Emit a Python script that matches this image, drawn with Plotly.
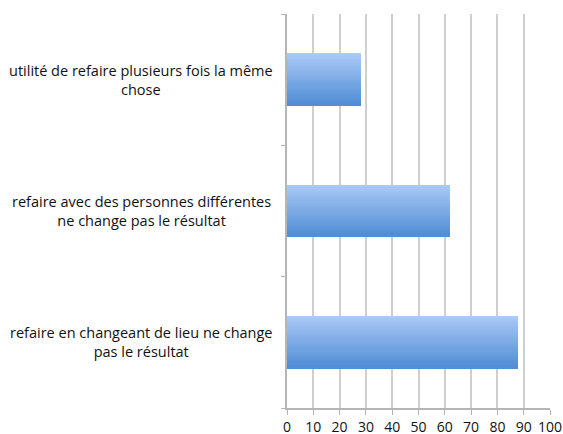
import plotly.graph_objects as go

# Survey answers (percent) for each statement
categories = [
    "refaire en changeant de lieu ne change<br>pas le résultat",
    "refaire avec des personnes différentes<br>ne change pas le résultat",
    "utilité de refaire plusieurs fois la même<br>chose",
]
values = [88, 62, 28]
x_ticks = [0, 10, 20, 30, 40, 50, 60, 70, 80, 90, 100]

# Vertical gradient for the bars: light blue on top, deeper blue below
top_rgb = (172, 203, 247)
bottom_rgb = (82, 142, 214)
n_strips = 24
bar_width = 0.40

fig = go.Figure()
for i in range(n_strips):
    t = i / (n_strips - 1)
    r = round(top_rgb[0] + (bottom_rgb[0] - top_rgb[0]) * t)
    g = round(top_rgb[1] + (bottom_rgb[1] - top_rgb[1]) * t)
    b = round(top_rgb[2] + (bottom_rgb[2] - top_rgb[2]) * t)
    h = bar_width / n_strips
    # strip i sits i steps down from the top of the bar; later strips
    # extend upward a little so no seam shows between them
    offset = bar_width / 2 - (i + 1) * h
    ext = h * 0.8 if i > 0 else 0
    fig.add_trace(go.Bar(
        x=values,
        y=list(range(len(categories))),
        orientation="h",
        width=h + ext,
        offset=offset,
        marker=dict(color=f"rgb({r},{g},{b})", line=dict(width=0)),
        showlegend=False,
        hoverinfo="skip",
    ))

for i, label in enumerate(categories):
    fig.add_annotation(
        x=-0.555, xref="paper", y=i, yref="y",
        text=label, showarrow=False, xanchor="center", yanchor="middle",
        align="center",
        font=dict(family="Open Sans", size=14.5, color="#111111"),
    )

fig.update_layout(
    width=563, height=434,
    margin=dict(l=287, r=13, t=14, b=26, autoexpand=False),
    paper_bgcolor="white", plot_bgcolor="white",
    barmode="overlay",
    bargap=0,
)
fig.update_xaxes(
    range=[0, 100], tickvals=x_ticks, automargin=False,
    showgrid=True, gridcolor="#cfcfcf", gridwidth=1.5,
    showline=True, linecolor="#b5b5b5", linewidth=1.5,
    ticks="outside", ticklen=5, tickcolor="#b5b5b5", tickwidth=1,
    tickfont=dict(family="Open Sans", size=14, color="#111111"),
    zeroline=False, fixedrange=True,
)
fig.update_yaxes(
    range=[-0.5, len(categories) - 0.5], automargin=False,
    tickvals=[-0.5, 0.5, 1.5, 2.5], ticktext=["", "", "", ""],
    showgrid=False,
    showline=True, linecolor="#b5b5b5", linewidth=1.5,
    ticks="outside", ticklen=4, tickcolor="#b5b5b5", tickwidth=1,
    zeroline=False, fixedrange=True,
)

fig.write_html("out.html")
